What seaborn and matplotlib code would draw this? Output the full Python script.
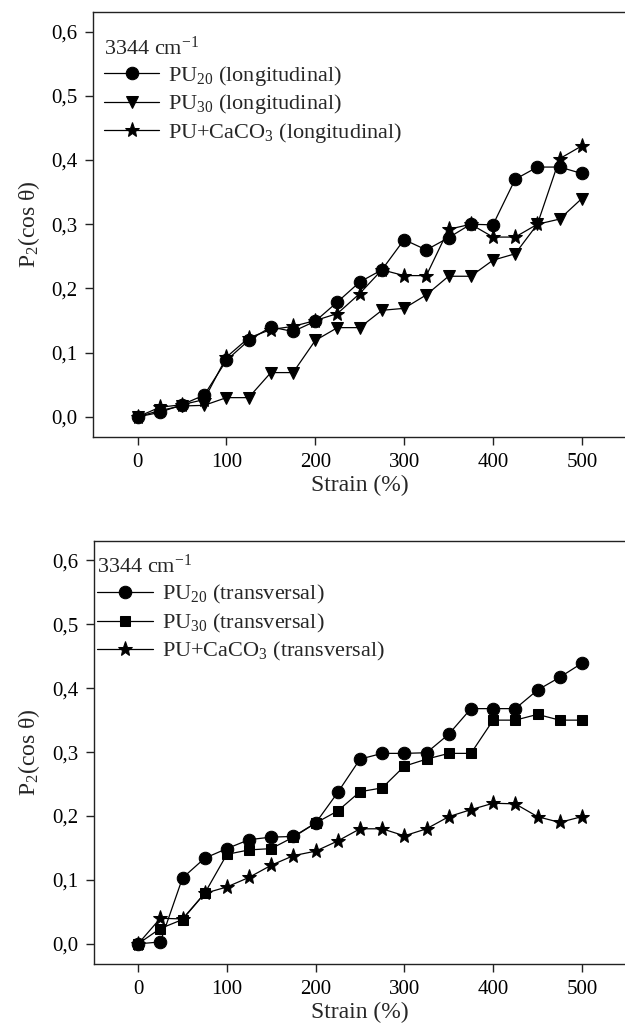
import numpy as np
import pandas as pd
import matplotlib
matplotlib.use("Agg")
import matplotlib.pyplot as plt
import seaborn as sns
from matplotlib.ticker import FuncFormatter

# Strain values (%) shared by all series
strain = [0, 25, 50, 75, 100, 125, 150, 175, 200, 225, 250,
          275, 300, 325, 350, 375, 400, 425, 450, 475, 500]

# Top panel - longitudinal
pu20_long = [0.0, 0.007, 0.019, 0.034, 0.088, 0.119, 0.140, 0.133, 0.149, 0.179, 0.210,
             0.229, 0.276, 0.260, 0.279, 0.300, 0.299, 0.370, 0.389, 0.389, 0.379]
pu30_long = [0.0, 0.010, 0.017, 0.018, 0.030, 0.030, 0.069, 0.069, 0.119, 0.139, 0.139,
             0.166, 0.169, 0.190, 0.219, 0.219, 0.244, 0.254, 0.300, 0.308, 0.340]
caco3_long = [0.0, 0.015, 0.019, 0.027, 0.093, 0.123, 0.136, 0.141, 0.150, 0.161, 0.192,
              0.229, 0.220, 0.220, 0.292, 0.300, 0.280, 0.280, 0.300, 0.402, 0.422]

# Bottom panel - transversal
pu20_trans = [0.0, 0.003, 0.103, 0.134, 0.149, 0.163, 0.167, 0.168, 0.189, 0.237, 0.289,
              0.298, 0.298, 0.299, 0.328, 0.368, 0.368, 0.368, 0.397, 0.417, 0.439]
pu30_trans = [0.0, 0.024, 0.038, 0.079, 0.140, 0.147, 0.149, 0.167, 0.189, 0.208, 0.238,
              0.244, 0.278, 0.289, 0.298, 0.298, 0.350, 0.350, 0.359, 0.350, 0.350]
caco3_trans = [0.0, 0.040, 0.039, 0.079, 0.089, 0.104, 0.123, 0.138, 0.145, 0.161, 0.180,
               0.180, 0.169, 0.180, 0.199, 0.210, 0.220, 0.219, 0.199, 0.190, 0.199]

y_ticks = [0.0, 0.1, 0.2, 0.3, 0.4, 0.5, 0.6]
x_ticks = [0, 100, 200, 300, 400, 500]

sns.set_style("ticks")
plt.rcParams['font.family'] = ['Liberation Serif', 'DejaVu Serif']
plt.rcParams['mathtext.fontset'] = 'custom'
plt.rcParams['mathtext.rm'] = 'Liberation Serif'
plt.rcParams['mathtext.it'] = 'Liberation Serif:italic'
plt.rcParams['axes.edgecolor'] = '#222222'
plt.rcParams['axes.linewidth'] = 1.0
plt.rcParams['xtick.color'] = '#222222'
plt.rcParams['ytick.color'] = '#222222'
plt.rcParams['xtick.labelcolor'] = 'black'
plt.rcParams['ytick.labelcolor'] = 'black'
plt.rcParams['xtick.major.size'] = 6
plt.rcParams['ytick.major.size'] = 6
plt.rcParams['xtick.major.width'] = 1.0
plt.rcParams['ytick.major.width'] = 1.0
plt.rcParams['xtick.direction'] = 'out'
plt.rcParams['ytick.direction'] = 'out'

fig = plt.figure(figsize=(6.25, 10.23), dpi=100, facecolor='white')
ax1 = fig.add_axes([0.149, 0.573, 0.853, 0.415])
ax2 = fig.add_axes([0.150, 0.058, 0.852, 0.413])

fs = 15       # tick labels
fs_lab = 17   # axis labels
fs_leg = 16   # legend
comma = FuncFormatter(lambda v, p: f"{v:.1f}".replace('.', ','))

top_series = [
    (pu20_long, 'o', 9, r'PU$_{20}$ (longitudinal)'),
    (pu30_long, 'v', 9, r'PU$_{30}$ (longitudinal)'),
    (caco3_long, '*', 11, r'PU+CaCO$_3$ (longitudinal)'),
]
bottom_series = [
    (pu20_trans, 'o', 9, r'PU$_{20}$ (transversal)'),
    (pu30_trans, 's', 7.5, r'PU$_{30}$ (transversal)'),
    (caco3_trans, '*', 11, r'PU+CaCO$_3$ (transversal)'),
]

# legend anchors differ slightly between the two panels
anchors = [(-0.005, 0.975), (-0.018, 1.0)]
spacings = [0.2, 0.25]

for ax, series, anc, sp in [(ax1, top_series, anchors[0], spacings[0]),
                            (ax2, bottom_series, anchors[1], spacings[1])]:
    for vals, mk, ms, lab in series:
        sns.lineplot(x=strain, y=vals, ax=ax, color='black', linewidth=0.9,
                     marker=mk, markersize=ms, markeredgecolor='black',
                     markerfacecolor='black', label=lab)
    ax.set_xlim(-50, 550)
    ax.set_ylim(-0.031, 0.63)
    ax.set_xticks(x_ticks)
    ax.set_yticks(y_ticks)
    ax.yaxis.set_major_formatter(comma)
    ax.tick_params(axis='x', labelsize=fs, pad=5.5)
    ax.tick_params(axis='y', labelsize=fs, pad=5)
    for s in ['top', 'right', 'left', 'bottom']:
        ax.spines[s].set_visible(True)
    ax.set_xlabel('Strain (%)', fontsize=fs_lab, labelpad=2)
    ax.set_ylabel(r'P$_2$(cos θ)', fontsize=fs_lab, labelpad=7)
    leg = ax.legend(loc='upper left', bbox_to_anchor=anc, frameon=False, fontsize=fs_leg,
                    title=r'3344 cm$^{-1}$', title_fontsize=fs_leg,
                    alignment='left', handlelength=2.5, handletextpad=0.4,
                    labelspacing=sp, borderaxespad=0.3, borderpad=0.3)

fig.savefig('out.png', dpi=100, facecolor='white')
